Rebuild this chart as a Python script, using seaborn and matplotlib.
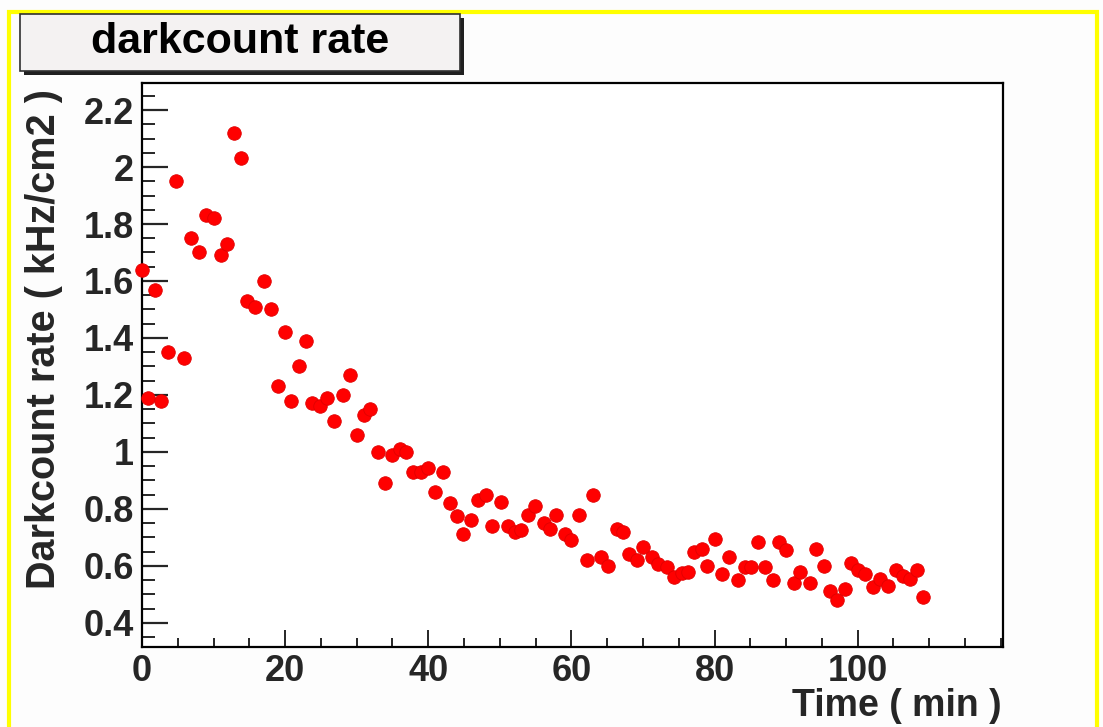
import matplotlib
matplotlib.use("Agg")
import matplotlib.pyplot as plt
import matplotlib.ticker as mticker
from matplotlib.patches import Rectangle
import seaborn as sns
import pandas as pd

# ---- data ----
time_min = [0, 0.8, 1.8, 2.7, 3.7, 4.7, 5.9, 6.9, 8.0, 8.9,
            10.0, 11.0, 11.9, 12.8, 13.9, 14.7, 15.8, 17.0, 18.0, 19.0,
            20.0, 20.8, 22.0, 22.9, 23.7, 24.9, 25.8, 26.8, 28.1, 29.1,
            30.0, 31.0, 31.9, 33.0, 33.9, 35.0, 36.0, 36.9, 37.9, 39.0,
            40.0, 41.0, 42.0, 43.0, 44.0, 44.9, 45.9, 47.0, 48.0, 48.9,
            50.1, 51.1, 52.1, 53.0, 54.0, 54.9, 56.1, 57.0, 57.9, 59.1,
            60.0, 61.0, 62.2, 63.0, 64.2, 65.1, 66.3, 67.2, 68.1, 69.1,
            70.0, 71.2, 72.1, 73.3, 74.4, 75.4, 76.3, 77.1, 78.2, 78.9,
            80.0, 81.0, 82.0, 83.3, 84.2, 85.1, 86.1, 87.1, 88.2, 89.0,
            90.0, 91.1, 92.0, 93.3, 94.2, 95.3, 96.1, 97.1, 98.2, 99.1,
            100.0, 101.0, 102.1, 103.1, 104.2, 105.4, 106.3, 107.3, 108.3, 109.1]

rate_khz_cm2 = [1.64, 1.19, 1.57, 1.18, 1.35, 1.95, 1.33, 1.75, 1.70, 1.83,
                1.82, 1.69, 1.73, 2.12, 2.03, 1.53, 1.51, 1.60, 1.50, 1.23,
                1.42, 1.18, 1.30, 1.39, 1.17, 1.16, 1.19, 1.11, 1.20, 1.27,
                1.06, 1.13, 1.15, 1.00, 0.89, 0.99, 1.01, 1.00, 0.93, 0.93,
                0.945, 0.86, 0.93, 0.82, 0.775, 0.71, 0.76, 0.83, 0.85, 0.74,
                0.825, 0.74, 0.72, 0.725, 0.78, 0.81, 0.75, 0.73, 0.78, 0.71,
                0.69, 0.78, 0.62, 0.85, 0.63, 0.60, 0.73, 0.72, 0.64, 0.62,
                0.665, 0.63, 0.605, 0.595, 0.56, 0.575, 0.58, 0.65, 0.66, 0.60,
                0.695, 0.57, 0.63, 0.55, 0.595, 0.595, 0.685, 0.595, 0.55, 0.685,
                0.655, 0.54, 0.58, 0.54, 0.66, 0.60, 0.51, 0.48, 0.52, 0.61,
                0.585, 0.57, 0.525, 0.555, 0.53, 0.585, 0.565, 0.555, 0.585, 0.49]

x_major_ticks = [0, 20, 40, 60, 80, 100]
y_major_ticks = [0.4, 0.6, 0.8, 1.0, 1.2, 1.4, 1.6, 1.8, 2.0, 2.2]

title_text = "darkcount rate"
x_title = "Time ( min )"
y_title = "Darkcount rate ( kHz/cm2 )"

df = pd.DataFrame({"time": time_min, "rate": rate_khz_cm2})

# ---- style ----
sns.set_style("white")
plt.rcParams["font.family"] = ["Liberation Sans", "DejaVu Sans"]
plt.rcParams["font.weight"] = "bold"

W, H = 1103, 727
fig = plt.figure(figsize=(W / 100, H / 100), dpi=100)
fig.patch.set_facecolor("#fdfdfd")

L, R, T, B = 142, 1003, 83, 647
ax = fig.add_axes([L / W, 1 - B / H, (R - L) / W, (B - T) / H])
ax.set_facecolor("white")

sns.scatterplot(data=df, x="time", y="rate", ax=ax, color="#ff0000",
                edgecolor="#e00000", linewidth=0.6, s=95, marker="o",
                legend=False, zorder=3, clip_on=False)

ax.set_xlim(0, 120.3)
ax.set_ylim(0.315, 2.295)

ax.xaxis.set_major_locator(mticker.FixedLocator(x_major_ticks))
ax.xaxis.set_minor_locator(mticker.MultipleLocator(5))
ax.yaxis.set_major_locator(mticker.FixedLocator(y_major_ticks))
ax.yaxis.set_minor_locator(mticker.MultipleLocator(0.05))
ax.yaxis.set_major_formatter(mticker.FormatStrFormatter("%g"))
ax.xaxis.set_major_formatter(mticker.FormatStrFormatter("%g"))

for s in ax.spines.values():
    s.set_linewidth(1.6)
    s.set_color("black")

ax.tick_params(axis="y", which="major", direction="in", length=19, width=1.6,
               labelsize=26, pad=6, left=True, right=False)
ax.tick_params(axis="y", which="minor", direction="in", length=9, width=1.4,
               left=True, right=False)
ax.tick_params(axis="x", which="major", direction="in", length=12, width=1.4,
               labelsize=26, pad=5, bottom=True, top=False)
ax.tick_params(axis="x", which="minor", direction="in", length=6.5, width=1.4,
               bottom=True, top=False)
for lab in ax.get_xticklabels() + ax.get_yticklabels():
    lab.set_fontweight("bold")

ax.set_xlabel(x_title, fontsize=27, fontweight="bold", loc="right")
ax.set_ylabel(y_title, fontsize=28.5, fontweight="bold", loc="top")
ax.xaxis.set_label_coords(0.998, -0.072)
ax.yaxis.set_label_coords(-0.114, 0.99)
ax.yaxis.label.set_verticalalignment("center")

# ---- yellow frame lines ----
fig.add_artist(Rectangle((9 / W, -0.01), (1097 - 9) / W, 1 - 12 / H + 0.01,
                         transform=fig.transFigure, fill=False,
                         edgecolor="#ffff00", linewidth=3))

# ---- title box (ROOT style with shadow) ----
bx0, bx1, by0, by1 = 20, 460, 14, 71
fig.add_artist(Rectangle(((bx0 + 4) / W, 1 - (by1 + 4) / H), (bx1 - bx0) / W,
                         (by1 - by0) / H, transform=fig.transFigure,
                         facecolor="#202020", edgecolor="none"))
fig.add_artist(Rectangle((bx0 / W, 1 - by1 / H), (bx1 - bx0) / W,
                         (by1 - by0) / H, transform=fig.transFigure,
                         facecolor="#f4f2f2", edgecolor="#303030", linewidth=1.2))
fig.text((bx0 + bx1) / 2 / W, 1 - 42 / H, title_text, fontsize=31,
         fontweight="bold", ha="center", va="center", color="black")

fig.savefig("out.png", dpi=100, facecolor=fig.get_facecolor())
